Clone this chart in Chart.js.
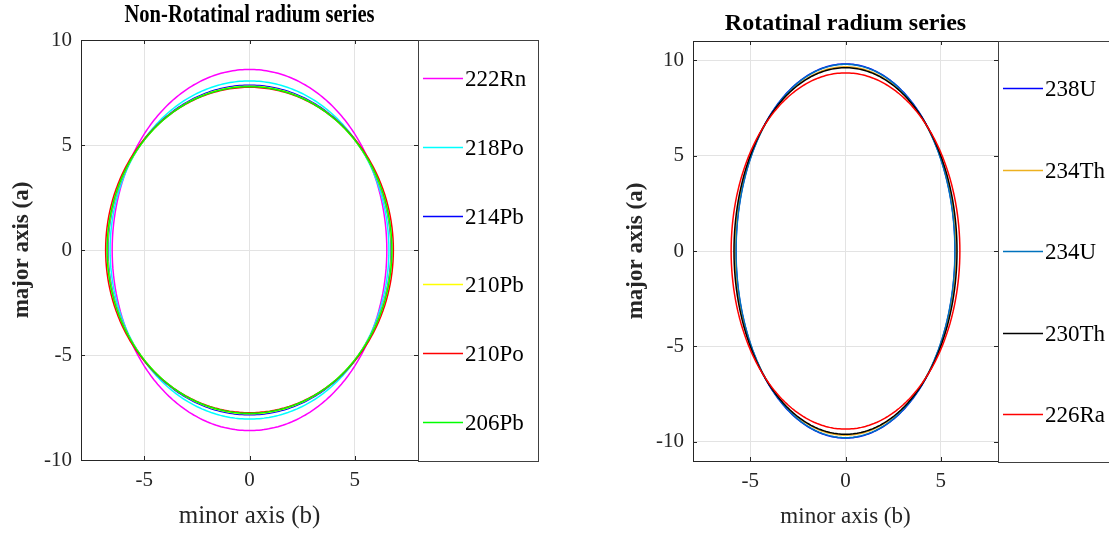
<!DOCTYPE html>
<html>
<head>
<meta charset="utf-8">
<script src="https://cdn.jsdelivr.net/npm/chart.js@4.4.1/dist/chart.umd.min.js"></script>
<style>
  body { margin: 0; background: #fff; }
  canvas { position: absolute; top: 0; }
  #leftChart { left: 0; }
  #rightChart { left: 554px; }
</style>
</head>
<body>
<canvas id="leftChart" width="554" height="535"></canvas>
<canvas id="rightChart" width="555" height="535"></canvas>
<script>
// semi-axes: major (a) and minor (b) per nucleus
const leftSeries = ['222Rn', '218Po', '214Pb', '210Pb', '210Po', '206Pb'];
const leftMajor = [8.6, 8.05, 7.85, 7.8, 7.75, 7.78];
const leftMinor = [6.52, 6.62, 6.72, 6.74, 6.83, 6.76];
const leftColors = ['#ff00ff', '#00ffff', '#0000ff', '#ffff00', '#ff0000', '#00ff00'];

const rightSeries = ['238U', '234Th', '234U', '230Th', '226Ra'];
const rightMajor = [9.8, 9.65, 9.78, 9.6, 9.33];
const rightMinor = [5.75, 5.8, 5.74, 5.85, 6.0];
const rightColors = ['#0000ff', '#EDB120', '#0072BD', '#000000', '#ff0000'];

const xTickValues = [-5, 0, 5];
const yTickValues = [-10, -5, 0, 5, 10];

const serif = "'Liberation Serif', 'Times New Roman', serif";

// ellipse outline x = b cos t, y = a sin t
function ellipse(a, b) {
    const pts = [];
    for (let i = 0; i <= 180; i++) {
        const t = i / 180 * 2 * Math.PI;
        pts.push({ x: b * Math.cos(t), y: a * Math.sin(t) });
    }
    return pts;
}

function makeDatasets(names, major, minor, colors) {
    return names.map((n, i) => ({
        label: n,
        data: ellipse(major[i], minor[i]),
        borderColor: colors[i],
        borderWidth: 1.5,
        pointRadius: 0,
        showLine: true,
        tension: 0.0001,          // keeps chart.js off its column-merging fast path
        order: names.length - i   // last series ends up on top, like MATLAB
    }));
}

// box, inward ticks, boxed legend and title in the MATLAB look
const matlabBox = {
    id: 'matlabBox',
    afterDraw(chart, args, opts) {
        const { ctx, chartArea: a, scales } = chart;
        ctx.save();
        ctx.strokeStyle = '#262626';
        ctx.lineWidth = 1;
        ctx.strokeRect(a.left + 0.5, a.top + 0.5, a.right - a.left, a.bottom - a.top);
        ctx.beginPath();
        scales.x.ticks.forEach(t => {
            const px = Math.round(scales.x.getPixelForValue(t.value)) + 0.5;
            ctx.moveTo(px, a.top); ctx.lineTo(px, a.top + 4);
            ctx.moveTo(px, a.bottom); ctx.lineTo(px, a.bottom - 4);
        });
        scales.y.ticks.forEach(t => {
            const py = Math.round(scales.y.getPixelForValue(t.value)) + 0.5;
            ctx.moveTo(a.left, py); ctx.lineTo(a.left + 4, py);
            ctx.moveTo(a.right, py); ctx.lineTo(a.right - 4, py);
        });
        ctx.stroke();

        // legend box on the right of the axes
        const lx = a.right, h = a.bottom - a.top;
        ctx.strokeStyle = '#404040';
        ctx.strokeRect(lx + 0.5, a.top + 0.5, opts.legendWidth, h + 1);
        const ds = chart.data.datasets;
        const step = (h - 2 * opts.inset) / (ds.length - 1);
        ctx.font = '23px ' + serif;
        ctx.textBaseline = 'middle';
        ctx.textAlign = 'left';
        ds.forEach((d, i) => {
            const yy = Math.round(a.top + opts.inset + i * step) + 0.5;
            ctx.strokeStyle = d.borderColor;
            ctx.lineWidth = 1.5;
            ctx.beginPath();
            ctx.moveTo(lx + 5, yy); ctx.lineTo(lx + 45, yy);
            ctx.stroke();
            ctx.fillStyle = '#000';
            ctx.fillText(d.label, lx + 47, yy + 1);
        });

        // title centred over the axes
        ctx.font = 'bold ' + opts.titleSize + 'px ' + serif;
        ctx.textAlign = 'center';
        ctx.fillStyle = '#000';
        ctx.fillText(opts.title, (a.left + a.right) / 2, opts.titleY, opts.titleWidth);
        ctx.restore();
    }
};

function makeChart(id, datasets, cfg) {
    const ctx = document.getElementById(id).getContext('2d');
    return new Chart(ctx, {
        type: 'scatter',
        data: { datasets: datasets },
        plugins: [matlabBox],
        options: {
            responsive: false,
            animation: false,
            devicePixelRatio: 1,
            layout: { padding: { left: cfg.padLeft, right: cfg.padRight, top: cfg.padTop, bottom: 0 } },
            scales: {
                x: {
                    type: 'linear', min: -8, max: 8,
                    afterBuildTicks: s => { s.ticks = xTickValues.map(v => ({ value: v })); },
                    afterFit: s => { s.height = cfg.xHeight; },
                    grid: { color: '#e3e3e3', drawTicks: false },
                    border: { display: false },
                    ticks: { padding: 8, color: '#262626', font: { family: serif, size: 21 } },
                    title: {
                        display: true, text: 'minor axis (b)', color: '#262626',
                        font: { family: serif, size: cfg.xTitleSize }, padding: { top: 0, bottom: 4 }
                    }
                },
                y: {
                    type: 'linear', min: -cfg.yMax, max: cfg.yMax,
                    afterBuildTicks: s => { s.ticks = yTickValues.map(v => ({ value: v })); },
                    afterFit: s => { s.width = cfg.yWidth; },
                    grid: { color: '#e3e3e3', drawTicks: false },
                    border: { display: false },
                    ticks: { padding: 9, color: '#262626', font: { family: serif, size: 21 } },
                    title: {
                        display: true, text: 'major axis (a)', color: '#262626',
                        font: { family: serif, size: 23, weight: 'bold' }, padding: { top: 8, bottom: 0 }
                    }
                }
            },
            plugins: {
                legend: { display: false },
                tooltip: { enabled: false },
                matlabBox: cfg.box
            }
        }
    });
}

makeChart('leftChart', makeDatasets(leftSeries, leftMajor, leftMinor, leftColors), {
    padLeft: 0, padRight: 136, padTop: 40, xHeight: 75, yWidth: 81, yMax: 10, xTitleSize: 25,
    box: { legendWidth: 120, inset: 38, title: 'Non-Rotatinal radium series', titleSize: 25, titleY: 16, titleWidth: 250 }
});

makeChart('rightChart', makeDatasets(rightSeries, rightMajor, rightMinor, rightColors), {
    padLeft: 60, padRight: 111, padTop: 41, xHeight: 74, yWidth: 79, yMax: 11, xTitleSize: 23,
    box: { legendWidth: 130, inset: 47, title: 'Rotatinal radium series', titleSize: 24, titleY: 24, titleWidth: 246 }
});
</script>
</body>
</html>
